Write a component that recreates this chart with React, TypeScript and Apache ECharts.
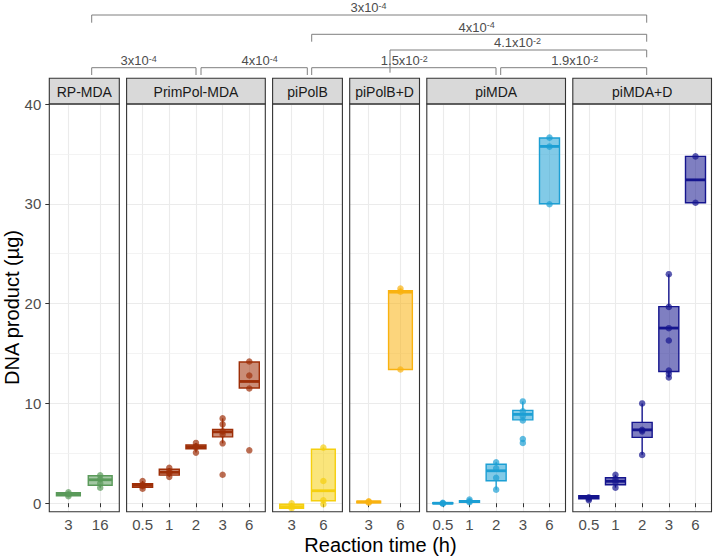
import React, { useEffect, useRef } from 'react';
import * as echarts from 'echarts';

// ---------- data ----------
const panelNames = ['RP-MDA', 'PrimPol-MDA', 'piPolB', 'piPolB+D', 'piMDA', 'piMDA+D'];
const panelColors = ['#5a9a5a', '#9e2f08', '#f5cf0f', '#f9b210', '#1c9fd4', '#15158e'];

const timesRP = ['3', '16'];
const timesPrimPol = ['0.5', '1', '2', '3', '6'];
const timesPolB = ['3', '6'];
const timesPolBD = ['3', '6'];
const timesMDA = ['0.5', '1', '2', '3', '6'];
const timesMDAD = ['0.5', '1', '2', '3', '6'];

// box statistics: [min, q1, median, q3, max]
const boxRP = [[0.7, 0.75, 0.9, 1.05, 1.1], [1.55, 1.8, 2.35, 2.75, 2.8]];
const boxPrimPol = [
  [1.46, 1.6, 1.8, 1.96, 2.23],
  [2.64, 2.81, 3.1, 3.4, 3.54],
  [5.07, 5.45, 5.64, 5.84, 6.04],
  [6.0, 6.65, 7.15, 7.4, 8.5],
  [11.5, 11.55, 12.2, 14.15, 14.2],
];
const boxPolB = [[-0.5, -0.5, -0.35, -0.1, 0.0], [-0.1, 0.25, 1.25, 5.4, 5.6]];
const boxPolBD = [[0.0, 0.05, 0.13, 0.2, 0.25], [13.4, 13.4, 21.15, 21.3, 21.5]];
const boxMDA = [
  [-0.1, -0.05, 0.0, 0.05, 0.1],
  [0.05, 0.1, 0.17, 0.25, 0.36],
  [1.36, 2.25, 3.25, 3.9, 4.1],
  [8.3, 8.35, 8.9, 9.3, 10.2],
  [30.0, 30.0, 35.75, 36.6, 36.65],
];
const boxMDAD = [
  [0.35, 0.45, 0.6, 0.75, 0.75],
  [1.56, 1.85, 2.2, 2.55, 2.85],
  [4.85, 6.6, 7.35, 8.1, 10.0],
  [12.6, 13.2, 17.55, 19.7, 22.95],
  [30.1, 30.1, 32.4, 34.75, 34.75],
];

// individual measurements
const ptsRP = [[0.7, 0.9, 1.1], [1.55, 2.0, 2.4, 2.8]];
const ptsPrimPol = [
  [1.46, 1.7, 1.85, 2.23],
  [2.64, 3.0, 3.2, 3.54],
  [5.07, 5.6, 5.7, 6.04],
  [2.85, 6.0, 6.9, 7.2, 7.9, 8.5],
  [5.3, 11.5, 12.8, 14.2],
];
const ptsPolB = [[-0.5, -0.3, 0.0], [-0.1, 0.3, 2.23, 5.57]];
const ptsPolBD = [[0.05, 0.15, 0.2], [13.4, 21.2, 21.5]];
const ptsMDA = [
  [-0.05, 0.0, 0.05],
  [0.1, 0.2, 0.36],
  [1.36, 2.54, 3.5, 4.11],
  [6.04, 6.44, 8.3, 8.75, 9.2, 10.2],
  [29.96, 35.73, 36.63],
];
const ptsMDAD = [
  [0.3, 0.45, 0.6],
  [1.56, 2.1, 2.4, 2.84],
  [4.84, 7.2, 7.35, 10.0],
  [12.6, 12.96, 13.29, 16.3, 17.54, 19.67, 22.95],
  [30.1, 34.75],
];

const yMajorTicks = [0, 10, 20, 30, 40];
const yMinorTicks = [5, 15, 25, 35];

// significance bracket labels (p-values as mantissa x 10^exponent)
const bracketMantissa = ['3', '4', '4.1', '3', '4', '1.5', '1.9'];
const bracketExponent = ['-4', '-4', '-2', '-4', '-4', '-2', '-2'];

// ---------- layout ----------
const categories = [timesRP, timesPrimPol, timesPolB, timesPolBD, timesMDA, timesMDAD];
const boxes = [boxRP, boxPrimPol, boxPolB, boxPolBD, boxMDA, boxMDAD];
const points = [ptsRP, ptsPrimPol, ptsPolB, ptsPolBD, ptsMDA, ptsMDAD];

const PANEL_LEFT = [49.3, 126.6, 272.6, 349.7, 426.8, 572.8];
const PANEL_W = [70, 138.7, 69.8, 69.8, 138.7, 138.7];
const PANEL_TOP = 104;
const PANEL_H = 407.7;
const STRIP_TOP = 78.3;
const FONT = '"Liberation Sans", Arial, Helvetica, sans-serif';

const bracketGeom = [
  { x1: 91.7, x2: 646.7, y: 15, lb: 22.7, rb: 22.7, lx: 368.5 },
  { x1: 311.7, x2: 646.7, y: 34.3, lb: 41.7, rb: 41.7, lx: 476.7 },
  { x1: 390, x2: 646.7, y: 50, lb: 72.7, rb: 57.3, lx: 517.5 },
  { x1: 91.7, x2: 196, y: 67.7, lb: 75, rb: 75, lx: 138.7 },
  { x1: 201, x2: 307.3, y: 67.7, lb: 75, rb: 75, lx: 259.7 },
  { x1: 311.7, x2: 496, y: 67.7, lb: 75, rb: 75, lx: 404.3 },
  { x1: 500.7, x2: 646.7, y: 67.7, lb: 75, rb: 75, lx: 574.7 },
];

function hexToRgba(hex: string, a: number) {
  const n = parseInt(hex.slice(1), 16);
  return `rgba(${(n >> 16) & 255},${(n >> 8) & 255},${n & 255},${a})`;
}

function buildOption() {
  const grid: any[] = [];
  const xAxis: any[] = [];
  const yAxis: any[] = [];
  const series: any[] = [];
  const graphic: any[] = [];

  panelNames.forEach((name, i) => {
    const cats = categories[i];
    const n = cats.length;
    const pos = cats.map((_, k) => k + 1);
    const color = panelColors[i];
    grid.push({ left: PANEL_LEFT[i], top: PANEL_TOP, width: PANEL_W[i], height: PANEL_H, containLabel: false });
    xAxis.push({
      type: 'value',
      gridIndex: i,
      min: 0.4,
      max: n + 0.6,
      axisLine: { show: false },
      axisTick: { show: true, customValues: pos, length: 4, lineStyle: { color: '#333333', width: 1 } },
      axisLabel: {
        show: true,
        customValues: pos,
        formatter: (v: number) => cats[Math.round(v) - 1] ?? '',
        color: '#4d4d4d',
        fontSize: 15,
        fontFamily: FONT,
        margin: 5,
      },
      splitLine: { show: false },
    });
    yAxis.push({
      type: 'value',
      gridIndex: i,
      min: -0.85,
      max: 40,
      axisLine: { show: false },
      axisTick: { show: i === 0, customValues: yMajorTicks, length: 4, lineStyle: { color: '#333333', width: 1 } },
      axisLabel: {
        show: i === 0,
        customValues: yMajorTicks,
        color: '#4d4d4d',
        fontSize: 15,
        fontFamily: FONT,
        margin: 8,
      },
      splitLine: { show: false },
    });

    const gridLines: any[] = [];
    pos.forEach((p) => gridLines.push({ xAxis: p, lineStyle: { color: '#ebebeb', width: 1.1, type: 'solid' } }));
    yMajorTicks.forEach((t) => gridLines.push({ yAxis: t, lineStyle: { color: '#ebebeb', width: 1.1, type: 'solid' } }));
    yMinorTicks.forEach((t) => gridLines.push({ yAxis: t, lineStyle: { color: '#f0f0f0', width: 0.8, type: 'solid' } }));

    const fill = hexToRgba(color, 0.55);
    series.push({
      type: 'custom',
      xAxisIndex: i,
      yAxisIndex: i,
      z: 2,
      clip: false,
      encode: { x: 0, y: [1, 5] },
      data: boxes[i].map((b, k) => [k + 1, ...b]),
      renderItem: (params: any, api: any) => {
        const x = api.value(0);
        const p = [1, 2, 3, 4, 5].map((k) => api.coord([x, api.value(k)]));
        const hw = api.size([0.75, 0])[0] / 2;
        const cx = p[0][0];
        return {
          type: 'group',
          children: [
            { type: 'line', shape: { x1: cx, y1: p[0][1], x2: cx, y2: p[1][1] }, style: { stroke: color, lineWidth: 1.4 } },
            { type: 'line', shape: { x1: cx, y1: p[3][1], x2: cx, y2: p[4][1] }, style: { stroke: color, lineWidth: 1.4 } },
            {
              type: 'rect',
              shape: { x: cx - hw, y: p[3][1], width: 2 * hw, height: Math.max(p[1][1] - p[3][1], 0.5) },
              style: { fill, stroke: color, lineWidth: 1.4 },
            },
            { type: 'line', shape: { x1: cx - hw, y1: p[2][1], x2: cx + hw, y2: p[2][1] }, style: { stroke: color, lineWidth: 2.8 } },
          ],
        };
      },
    });

    const scatterData: number[][] = [];
    points[i].forEach((arr, k) => arr.forEach((v) => scatterData.push([k + 1, v])));
    series.push({
      type: 'scatter',
      xAxisIndex: i,
      yAxisIndex: i,
      z: 3,
      symbol: 'circle',
      symbolSize: 6.5,
      itemStyle: { color, opacity: 0.7 },
      data: scatterData,
      markLine: {
        silent: true,
        z: 0,
        symbol: 'none',
        label: { show: false },
        animation: false,
        data: gridLines,
      },
    });

    // strip
    graphic.push({
      type: 'rect',
      shape: { x: PANEL_LEFT[i], y: STRIP_TOP, width: PANEL_W[i], height: PANEL_TOP - STRIP_TOP },
      style: { fill: '#d9d9d9', stroke: '#333333', lineWidth: 1.1 },
      z: 100,
    });
    graphic.push({
      type: 'text',
      x: PANEL_LEFT[i] + PANEL_W[i] / 2,
      y: (STRIP_TOP + PANEL_TOP) / 2 + 0.5,
      style: { text: name, fontSize: 14, fontFamily: FONT, fill: '#1a1a1a', align: 'center', verticalAlign: 'middle' },
      z: 101,
    });
    // panel border
    graphic.push({
      type: 'rect',
      shape: { x: PANEL_LEFT[i], y: PANEL_TOP, width: PANEL_W[i], height: PANEL_H },
      style: { fill: 'none', stroke: '#333333', lineWidth: 1.1 },
      z: 100,
    });
  });

  // brackets
  bracketGeom.forEach((b, j) => {
    graphic.push({
      type: 'polyline',
      shape: { points: [[b.x1, b.lb], [b.x1, b.y], [b.x2, b.y], [b.x2, b.rb]] },
      style: { stroke: '#7f7f7f', lineWidth: 1, fill: 'none' },
      z: 100,
    });
    graphic.push({
      type: 'text',
      x: b.lx,
      y: b.y - 7.2,
      style: {
        text: `{b|${bracketMantissa[j]}x10}{s|${bracketExponent[j]}}`,
        align: 'center',
        verticalAlign: 'middle',
        rich: {
          b: { fontSize: 13, fontFamily: FONT, fill: '#4d4d4d', verticalAlign: 'bottom', lineHeight: 13 },
          s: { fontSize: 9, fontFamily: FONT, fill: '#4d4d4d', verticalAlign: 'top', lineHeight: 13 },
        },
      },
      z: 101,
    });
  });

  // axis titles
  graphic.push({
    type: 'text',
    x: 12,
    y: 307.5,
    rotation: Math.PI / 2,
    style: { text: 'DNA product (µg)', fontSize: 20, fontFamily: FONT, fill: '#000000', align: 'center', verticalAlign: 'middle' },
    z: 101,
  });
  graphic.push({
    type: 'text',
    x: 380.5,
    y: 545,
    style: { text: 'Reaction time (h)', fontSize: 20, fontFamily: FONT, fill: '#000000', align: 'center', verticalAlign: 'middle' },
    z: 101,
  });

  return {
    animation: false,
    backgroundColor: '#ffffff',
    textStyle: { fontFamily: FONT },
    grid,
    xAxis,
    yAxis,
    series,
    graphic,
  };
}

export default function App() {
  const ref = useRef<HTMLDivElement>(null);
  useEffect(() => {
    document.body.style.margin = '0';
    if (!ref.current) return;
    const chart = echarts.init(ref.current, undefined, { renderer: 'svg' });
    chart.setOption(buildOption() as any);
    return () => chart.dispose();
  }, []);
  return <div ref={ref} style={{ width: 714, height: 558 }} />;
}
